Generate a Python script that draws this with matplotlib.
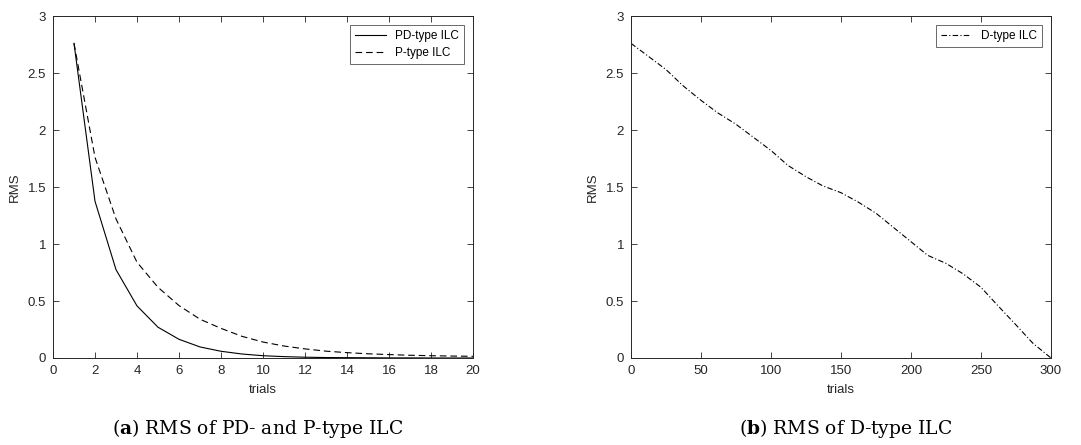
import numpy as np
import matplotlib
matplotlib.use('Agg')
import matplotlib.pyplot as plt

plt.rcParams['font.family'] = ['Liberation Sans', 'DejaVu Sans']
plt.rcParams['mathtext.fontset'] = 'dejavuserif'

# Valeurs
trials_a = list(range(1, 21))
rms_pd = [2.76, 1.375, 0.775, 0.457, 0.27, 0.164, 0.097, 0.059, 0.035, 0.02,
          0.012, 0.007, 0.004, 0.003, 0.002, 0.001, 0.001, 0.0, 0.0, 0.0]
rms_p = [2.76, 1.76, 1.22, 0.84, 0.62, 0.46, 0.34, 0.26, 0.19, 0.14,
         0.105, 0.08, 0.06, 0.047, 0.037, 0.03, 0.024, 0.02, 0.017, 0.015]

trials_b = [0, 12, 25, 37, 50, 62, 75, 87, 100, 112, 125, 137, 150, 162, 175,
            187, 200, 212, 225, 237, 250, 262, 275, 287, 300]
rms_d = [2.76, 2.65, 2.53, 2.39, 2.26, 2.15, 2.05, 1.94, 1.82, 1.69, 1.59,
         1.51, 1.45, 1.37, 1.27, 1.15, 1.02, 0.90, 0.83, 0.74, 0.62, 0.46,
         0.29, 0.13, 0.0]

W, H = 1081, 445
fig = plt.figure(figsize=(W / 100, H / 100), dpi=100)

gris = '#262626'

def style_axes(ax):
    ax.tick_params(direction='in', top=True, right=True, length=4, width=0.6,
                   labelsize=9.5, colors=gris, pad=5)
    for s in ax.spines.values():
        s.set_linewidth(0.7)
        s.set_color(gris)
    ax.set_ylim(0, 3)
    ax.set_yticks([0, 0.5, 1, 1.5, 2, 2.5, 3])
    ax.set_yticklabels(['0', '0.5', '1', '1.5', '2', '2.5', '3'])
    ax.set_xlabel('trials', fontsize=9.5, color=gris, labelpad=5)
    ax.set_ylabel('RMS', fontsize=9.5, color=gris, labelpad=5)

# (a)
ax1 = fig.add_axes([53 / W, 1 - 358 / H, 420 / W, 342 / H])
ax1.plot(trials_a, rms_pd, color='black', lw=0.8, ls='-', label='PD-type ILC')
ax1.plot(trials_a, rms_p, color='black', lw=0.8, ls=(0, (6, 3.5)), label='P-type ILC')
ax1.set_xlim(0, 20)
ax1.set_xticks(range(0, 21, 2))
style_axes(ax1)
leg1 = ax1.legend(loc='upper right', fontsize=8.5, frameon=True, fancybox=False,
                  edgecolor=gris, handlelength=2.6, borderaxespad=0.8,
                  labelspacing=0.4)
leg1.get_frame().set_linewidth(0.6)

# (b)
ax2 = fig.add_axes([631 / W, 1 - 358 / H, 420 / W, 342 / H])
ax2.plot(trials_b, rms_d, color='black', lw=0.8, ls=(0, (5, 2, 1, 2)), label='D-type ILC')
ax2.set_xlim(0, 300)
ax2.set_xticks(range(0, 301, 50))
style_axes(ax2)
leg2 = ax2.legend(loc='upper right', fontsize=8.5, frameon=True, fancybox=False,
                  edgecolor=gris, handlelength=2.6, borderaxespad=0.8)
leg2.get_frame().set_linewidth(0.6)

# Légendes des sous-figures
fig.text(258 / W, 1 - 429 / H, r'($\mathbf{a}$) RMS of PD- and P-type ILC',
         ha='center', va='center', fontsize=13.5, family='DejaVu Serif')
fig.text(846 / W, 1 - 429 / H, r'($\mathbf{b}$) RMS of D-type ILC',
         ha='center', va='center', fontsize=13.5, family='DejaVu Serif')

plt.savefig('out.png', dpi=100)
plt.close()
